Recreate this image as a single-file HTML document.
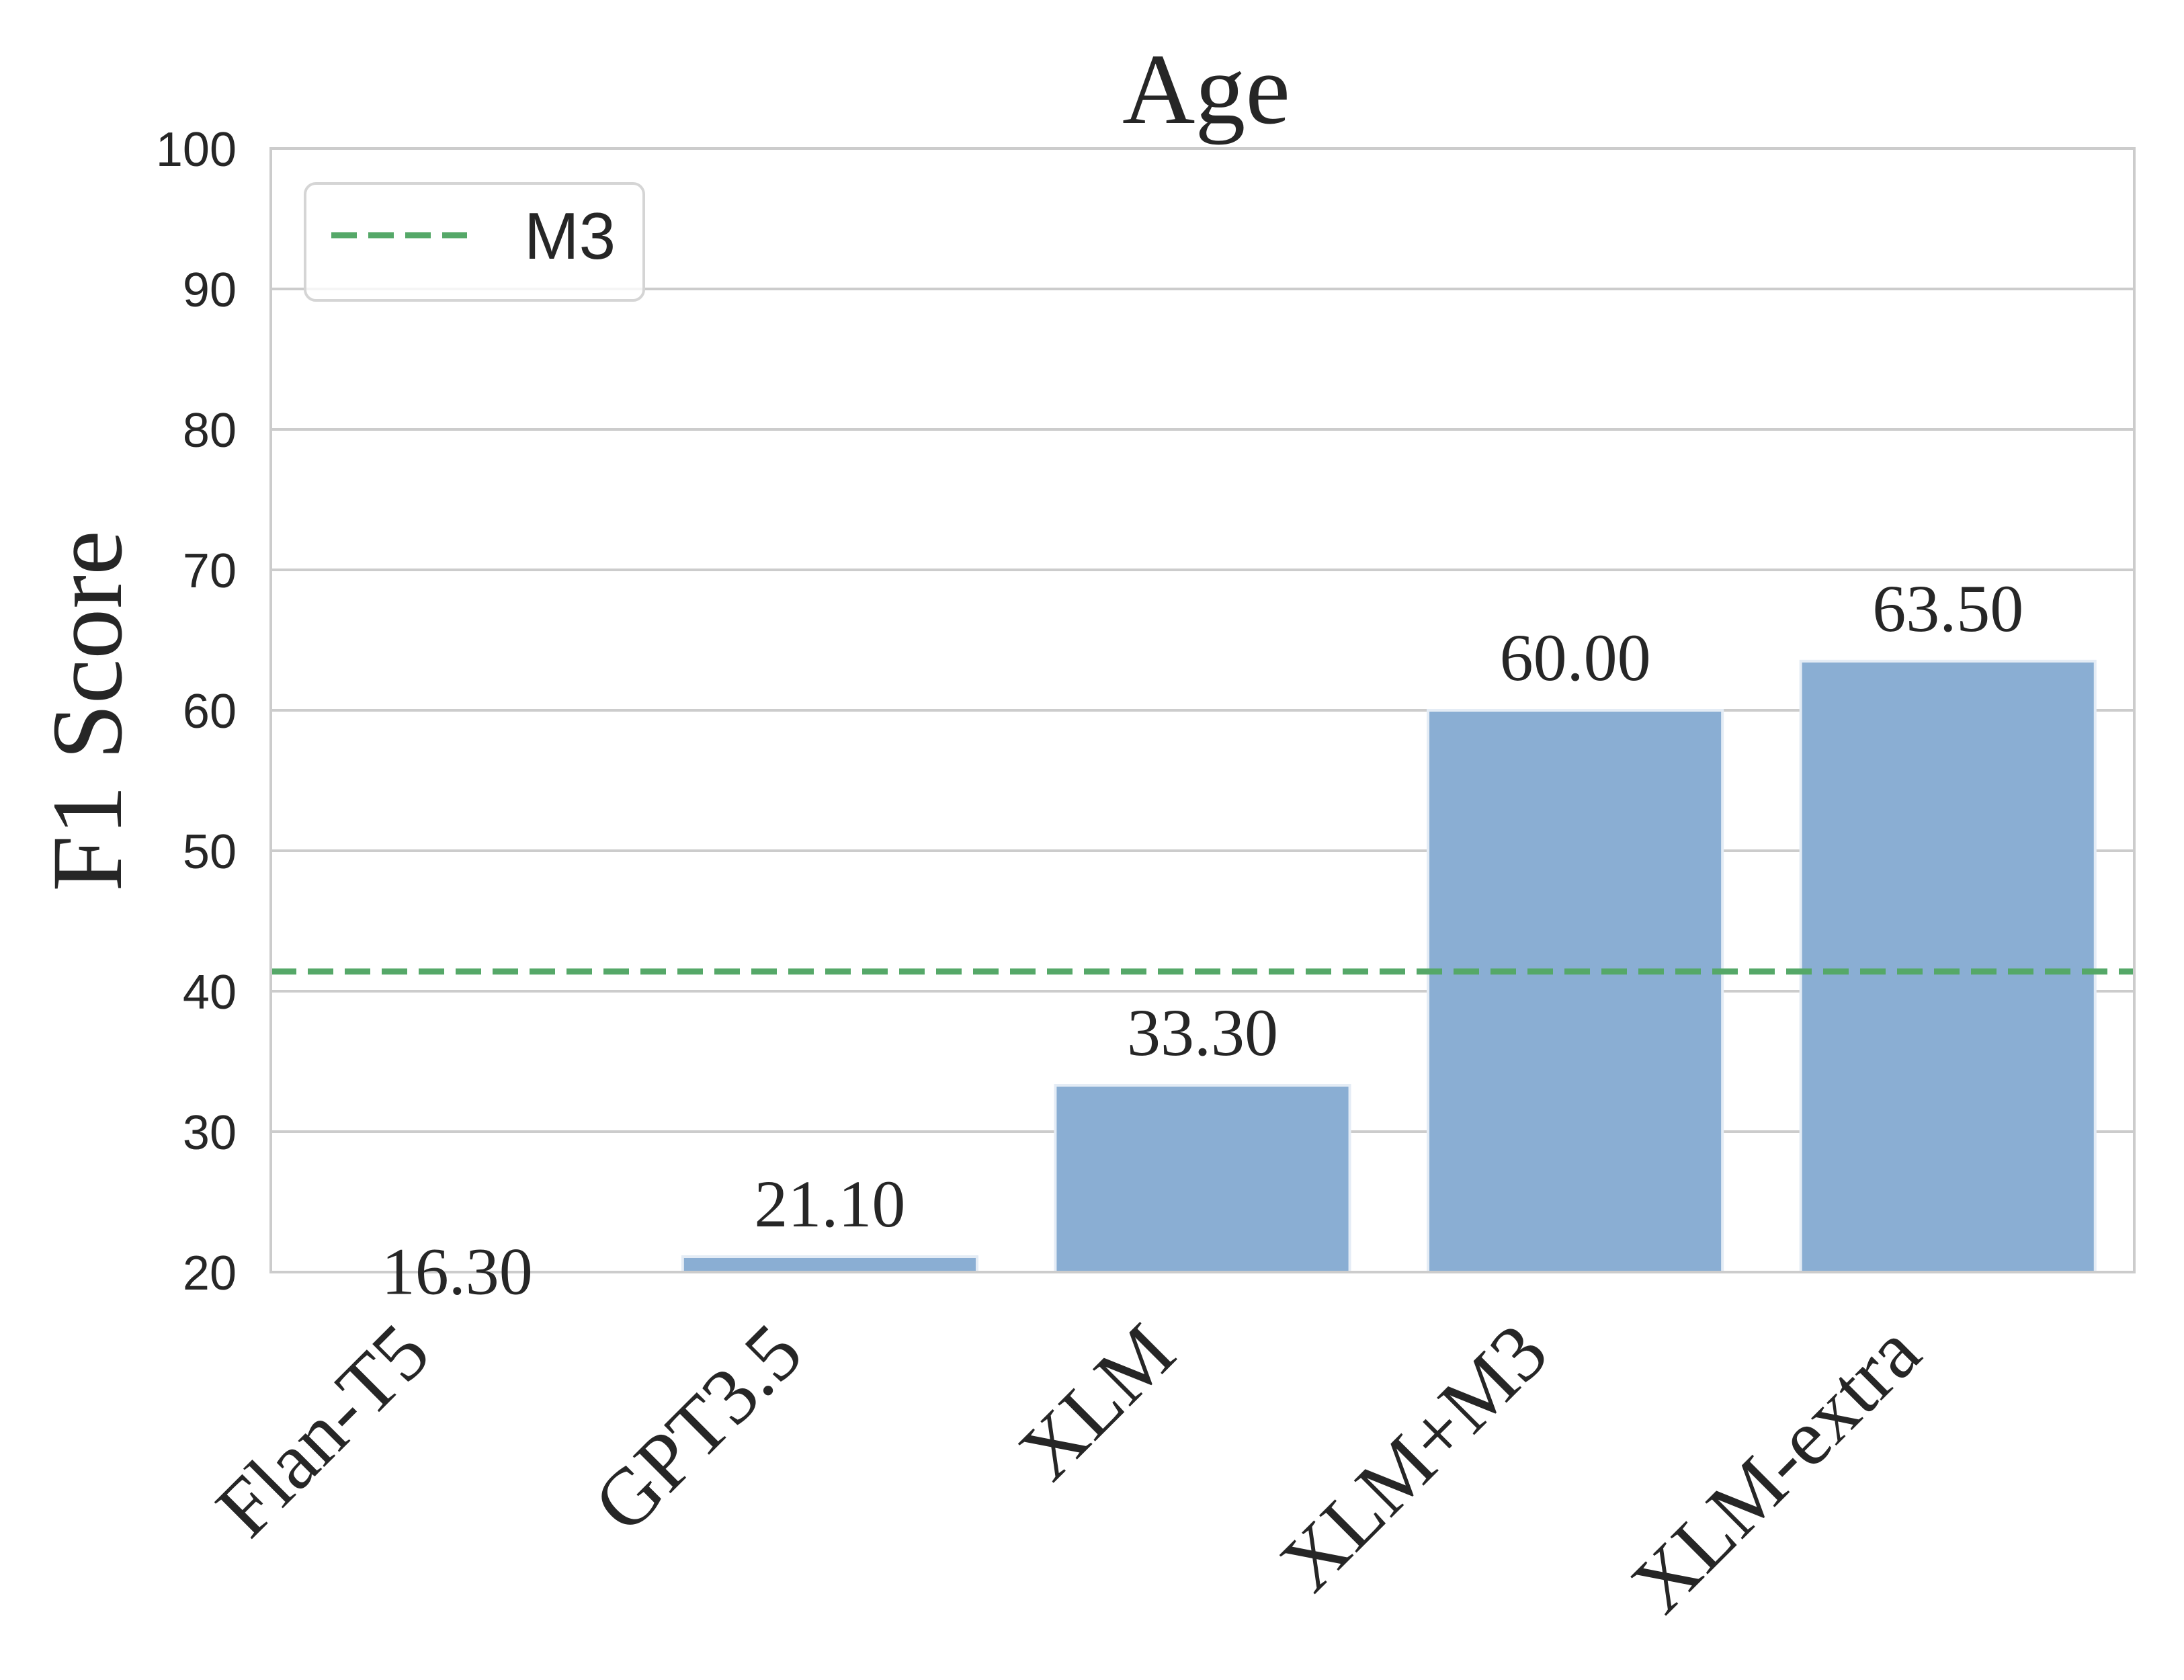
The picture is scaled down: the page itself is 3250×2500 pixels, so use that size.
<!DOCTYPE html>
<html><head><meta charset="utf-8"><style>html,body{margin:0;padding:0;background:#fff}svg{display:block}.serif{font-family:"Liberation Serif","Times New Roman",serif}.sans{font-family:"Liberation Sans",Arial,sans-serif}</style></head>
<body>
<svg id="chart" xmlns="http://www.w3.org/2000/svg" width="3250" height="2500" viewBox="0 0 3250 2500">
<rect width="3250" height="2500" fill="#fff"/>
<g id="grid"></g>
<g id="bars"></g>
<g id="ref"></g>
<rect x="403" y="221" width="2773" height="1672" fill="none" stroke="#cccccc" stroke-width="4"/>
<g id="yticks"></g>
<g id="labels"></g>
<g id="xticks"></g>
<text class="serif" x="1795" y="183" text-anchor="middle" font-size="150" fill="#262626">Age</text>
<text class="serif" transform="translate(180,1058) rotate(-90)" text-anchor="middle" font-size="150" fill="#262626">F1 Score</text>
<g>
<rect x="454" y="273" width="504" height="174" rx="16" fill="#fff" fill-opacity="0.8" stroke="#d5d5d5" stroke-width="4"/>
<line x1="493" y1="350" x2="695" y2="350" stroke="#55a868" stroke-width="9" stroke-dasharray="38 17"/>
<text class="sans" x="780" y="385" font-size="98" fill="#262626">M3</text>
</g>
</svg>
<script>
const categories = ["Flan-T5","GPT3.5","XLM","XLM+M3","XLM-extra"];
const scores = [16.3, 21.1, 33.3, 60.0, 63.5];
const valueLabels = ["16.30","21.10","33.30","60.00","63.50"];
const m3Value = [41.4];
const yTicks = [20,30,40,50,60,70,80,90,100];

const NS="http://www.w3.org/2000/svg";
const L=403,R=3176,T=221,B=1893,ymin=20,ymax=100;
const y=v=>B-(v-ymin)/(ymax-ymin)*(B-T);
const band=(R-L)/categories.length;
const xc=i=>L+band*(i+0.5);
function mk(tag,attrs,parent){const e=document.createElementNS(NS,tag);for(const k in attrs)e.setAttribute(k,attrs[k]);parent.appendChild(e);return e;}
const grid=document.getElementById('grid'),yt=document.getElementById('yticks');
yTicks.forEach(t=>{
  const g=mk('line',{x1:L,x2:R,y1:y(t),y2:y(t),stroke:'#cccccc','stroke-width':4},grid);
  
  
  const tx=mk('text',{class:'sans',x:352,y:y(t)+26,'text-anchor':'end','font-size':72,fill:'#262626'},yt);
  tx.textContent=t;
  
  
});
const bars=document.getElementById('bars'),labs=document.getElementById('labels'),xt=document.getElementById('xticks');
const bw=band*0.79;
categories.forEach((c,i)=>{
  const v=scores[i];
  if(v>ymin){
    const b=mk('rect',{x:xc(i)-bw/2,y:y(v),width:bw,height:B-y(v),fill:'#8aaed3',stroke:'#e4ecf5','stroke-width':4},bars);
    
    
  }
  const lt=mk('text',{class:'serif',x:xc(i),y:y(v)-45,'text-anchor':'middle','font-size':100,fill:'#262626'},labs);
  lt.textContent=valueLabels[i];
  
  
  const ax=xc(i)-35,ay=2020;
  const xl=mk('text',{class:'serif',transform:`translate(${ax},${ay}) rotate(-45)`,'text-anchor':'end','font-size':120,fill:'#262626'},xt);
  xl.textContent=c;
  
  
});
const ref=document.getElementById('ref');
const rl=mk('line',{x1:L,x2:R,y1:y(m3Value[0]),y2:y(m3Value[0]),stroke:'#55a868','stroke-width':9,'stroke-dasharray':'38 17'},ref);


</script>
</body></html>
